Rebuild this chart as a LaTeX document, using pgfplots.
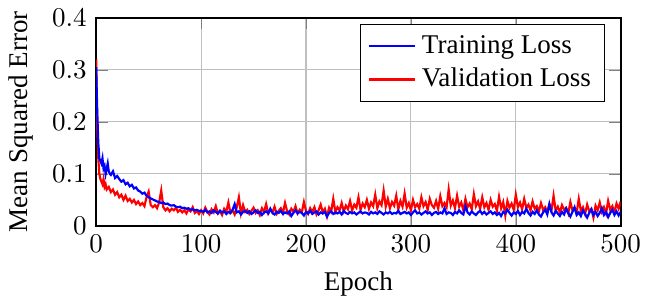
\documentclass[border=0pt]{standalone}
\usepackage{fontspec}
\setmainfont{Liberation Serif}
\usepackage{pgfplots}
\pgfplotsset{compat=1.18}
\begin{document}
\begin{tikzpicture}
\begin{axis}[
  scale only axis,
  width=194pt, height=77pt,
  xmin=0, xmax=500, ymin=0, ymax=0.4,
  xtick={0,100,200,300,400,500},
  ytick={0,0.1,0.2,0.3,0.4},
  yticklabel style={/pgf/number format/fixed},
  grid=major,
  axis line style={thick},
  xlabel={Epoch},
  ylabel={Mean Squared Error},
  legend pos=north east,
  legend cell align=left,
  legend style={font=\normalsize},
]
\addlegendimage{blue, thick}
\addlegendentry{Training Loss}
\addlegendimage{red, thick}
\addlegendentry{Validation Loss}
\addplot[red, thick, forget plot] coordinates {
(0,0.32)(1,0.19)(2,0.13)(3,0.10)(4,0.09)(5,0.085)(6,0.08)(7,0.09)(8,0.075)(9,0.08)(10,0.07)
(12,0.075)(14,0.065)(16,0.07)(18,0.06)(20,0.065)(22,0.055)(24,0.06)(26,0.05)(28,0.058)(30,0.048)
(32,0.052)(34,0.045)(36,0.05)(38,0.042)(40,0.047)(42,0.04)(44,0.044)(46,0.038)(48,0.055)(50,0.066)
(52,0.04)(54,0.036)(56,0.04)(58,0.034)(60,0.045)(62,0.068)(64,0.036)(66,0.03)(68,0.034)(70,0.028)
(72,0.033)(74,0.03)(76,0.035)(78,0.027)(80,0.031)(82,0.026)(84,0.03)(86,0.024)(88,0.032)(90,0.028)
(92,0.036)(94,0.025)(96,0.029)(98,0.023)
(100,0.030)(102,0.024)(104,0.035)(106,0.027)(108,0.022)(110,0.032)(112,0.026)(114,0.038)(116,0.024)(118,0.029)
(120,0.021)(122,0.033)(124,0.027)(126,0.045)(128,0.025)(130,0.030)(132,0.022)(134,0.036)(136,0.055)(138,0.024)
(140,0.040)(142,0.027)(144,0.031)(146,0.023)(148,0.029)(150,0.035)(152,0.025)(154,0.030)(156,0.021)(158,0.034)
(160,0.027)(162,0.042)(164,0.024)(166,0.032)(168,0.026)(170,0.037)(172,0.023)(174,0.029)(176,0.034)(178,0.025)
(180,0.044)(182,0.028)(184,0.022)(186,0.033)(188,0.027)(190,0.038)(192,0.024)(194,0.031)(196,0.026)(198,0.046)
(200,0.029)(202,0.023)(204,0.034)(206,0.027)(208,0.036)(210,0.022)(212,0.030)(214,0.041)(216,0.026)(218,0.033)
(220,0.018)(222,0.035)(224,0.028)(226,0.052)(228,0.027)(230,0.036)(232,0.030)(234,0.044)(236,0.028)(238,0.039)
(240,0.032)(242,0.048)(244,0.030)(246,0.041)(248,0.035)(250,0.055)(252,0.031)(254,0.043)(256,0.036)(258,0.050)
(260,0.033)(262,0.045)(264,0.038)(266,0.060)(268,0.034)(270,0.047)(272,0.040)(274,0.068)(276,0.037)(278,0.052)
(280,0.034)(282,0.046)(284,0.039)(286,0.058)(288,0.032)(290,0.048)(292,0.037)(294,0.062)(296,0.035)(298,0.044)
(300,0.030)(302,0.050)(304,0.036)(306,0.042)(308,0.033)(310,0.055)(312,0.038)(314,0.046)(316,0.031)(318,0.052)
(320,0.040)(322,0.035)(324,0.048)(326,0.033)(328,0.057)(330,0.038)(332,0.044)(334,0.036)(336,0.070)(338,0.039)
(340,0.049)(342,0.034)(344,0.058)(346,0.037)(348,0.045)(350,0.030)(352,0.052)(354,0.036)(356,0.043)(358,0.032)
(360,0.061)(362,0.038)(364,0.047)(366,0.033)(368,0.055)(370,0.036)(372,0.044)(374,0.031)(376,0.050)(378,0.037)
(380,0.042)(382,0.029)(384,0.056)(386,0.034)(388,0.046)(390,0.020)(392,0.048)(394,0.035)(396,0.043)(398,0.031)
(400,0.060)(402,0.036)(404,0.045)(406,0.032)(408,0.052)(410,0.035)(412,0.041)(414,0.030)(416,0.047)(418,0.033)
(420,0.038)(422,0.028)(424,0.044)(426,0.031)(428,0.036)(430,0.027)(432,0.042)(434,0.030)(436,0.058)(438,0.029)
(440,0.037)(442,0.026)(444,0.040)(446,0.031)(448,0.035)(450,0.024)(452,0.046)(454,0.030)(456,0.034)(458,0.026)
(460,0.052)(462,0.029)(464,0.036)(466,0.023)(468,0.041)(470,0.028)(472,0.033)(474,0.016)(476,0.039)(478,0.030)
(480,0.045)(482,0.027)(484,0.036)(486,0.024)(488,0.048)(490,0.031)(492,0.038)(494,0.026)(496,0.043)(498,0.033)
(500,0.047)
};
\addplot[blue, thick, forget plot] coordinates {
(0,0.305)(1,0.22)(2,0.16)(3,0.13)(4,0.125)(5,0.12)(6,0.13)(7,0.11)(8,0.115)(9,0.10)(10,0.11)
(11,0.12)(12,0.105)(13,0.10)
(14,0.098)(16,0.105)(18,0.092)(20,0.096)(22,0.09)(24,0.085)(26,0.088)(28,0.08)(30,0.083)(32,0.076)
(34,0.079)(36,0.072)(38,0.074)(40,0.068)(42,0.066)(44,0.062)(46,0.064)(48,0.058)(50,0.055)(52,0.053)
(54,0.051)(56,0.049)(58,0.047)(60,0.046)(62,0.044)(64,0.045)(66,0.042)(68,0.043)(70,0.040)(72,0.039)
(74,0.040)(76,0.037)(78,0.036)(80,0.037)(82,0.034)(84,0.035)(86,0.033)(88,0.034)(90,0.031)(92,0.032)
(94,0.030)(96,0.031)(98,0.029)
(100,0.029)(102,0.027)(104,0.031)(106,0.026)(108,0.028)(110,0.025)(112,0.030)(114,0.027)(116,0.024)(118,0.029)
(120,0.026)(122,0.028)(124,0.023)(126,0.027)(128,0.025)(130,0.031)(132,0.042)(134,0.026)(136,0.028)(138,0.022)
(140,0.027)(142,0.029)(144,0.025)(146,0.028)(148,0.023)(150,0.026)(152,0.030)(154,0.025)(156,0.027)(158,0.021)
(160,0.026)(162,0.028)(164,0.024)(166,0.033)(168,0.025)(170,0.022)(172,0.027)(174,0.025)(176,0.029)(178,0.023)
(180,0.026)(182,0.024)(184,0.028)(186,0.019)(188,0.025)(190,0.030)(192,0.024)(194,0.027)(196,0.025)(198,0.020)
(200,0.027)(202,0.024)(204,0.029)(206,0.023)(208,0.026)(210,0.028)(212,0.022)(214,0.026)(216,0.024)(218,0.027)
(220,0.018)(222,0.025)(224,0.028)(226,0.023)(228,0.026)(230,0.024)(232,0.027)(234,0.022)(236,0.029)(238,0.025)
(240,0.023)(242,0.027)(244,0.024)(246,0.026)(248,0.022)(250,0.025)(252,0.028)(254,0.024)(256,0.026)(258,0.025)
(260,0.022)(262,0.027)(264,0.024)(266,0.026)(268,0.023)(270,0.028)(272,0.025)(274,0.022)(276,0.026)(278,0.024)
(280,0.027)(282,0.023)(284,0.025)(286,0.024)(288,0.029)(290,0.023)(292,0.025)(294,0.027)(296,0.024)(298,0.026)
(300,0.021)(302,0.026)(304,0.030)(306,0.024)(308,0.026)(310,0.022)(312,0.025)(314,0.028)(316,0.024)(318,0.026)
(320,0.021)(322,0.025)(324,0.027)(326,0.023)(328,0.026)(330,0.024)(332,0.034)(334,0.023)(336,0.026)(338,0.025)
(340,0.021)(342,0.027)(344,0.024)(346,0.030)(348,0.025)(350,0.022)(352,0.038)(354,0.026)(356,0.022)(358,0.028)
(360,0.024)(362,0.021)(364,0.026)(366,0.029)(368,0.023)(370,0.027)(372,0.022)(374,0.025)(376,0.028)(378,0.023)
(380,0.026)(382,0.021)(384,0.025)(386,0.019)(388,0.027)(390,0.024)(392,0.031)(394,0.025)(396,0.020)(398,0.026)
(400,0.023)(402,0.029)(404,0.021)(406,0.027)(408,0.024)(410,0.033)(412,0.025)(414,0.020)(416,0.027)(418,0.023)
(420,0.030)(422,0.022)(424,0.018)(426,0.026)(428,0.031)(430,0.022)(432,0.042)(434,0.026)(436,0.020)(438,0.029)
(440,0.024)(442,0.019)(444,0.027)(446,0.022)(448,0.033)(450,0.025)(452,0.018)(454,0.027)(456,0.036)(458,0.021)
(460,0.026)(462,0.019)(464,0.030)(466,0.023)(468,0.016)(470,0.025)(472,0.032)(474,0.021)(476,0.027)(478,0.019)
(480,0.025)(482,0.034)(484,0.021)(486,0.027)(488,0.017)(490,0.025)(492,0.031)(494,0.021)(496,0.028)(498,0.020)
(500,0.027)
};
\end{axis}
\end{tikzpicture}
\end{document}
